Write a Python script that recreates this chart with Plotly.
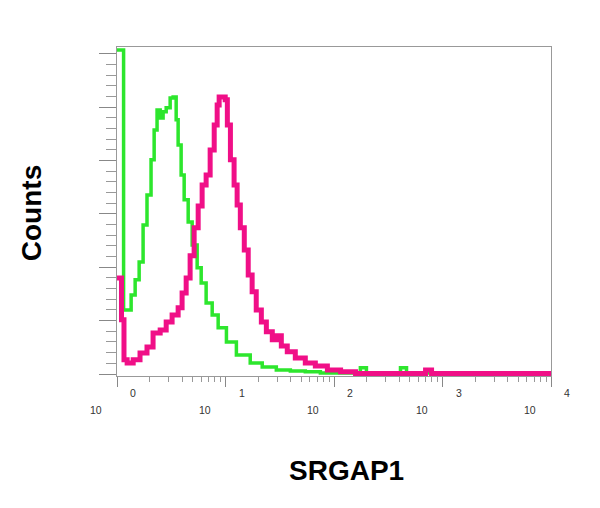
import plotly.graph_objects as go

# Fluorescence intensity (bin start) and counts for each histogram
iso_x = [1.00, 1.15, 1.35, 1.47, 1.60, 1.74, 1.89, 2.06, 2.20, 2.34, 2.50, 2.66, 2.84,
         3.09, 3.29, 3.51, 3.66, 3.90, 4.16, 4.53, 4.93, 5.48, 5.97, 6.63, 7.54, 8.56,
         10.2, 12.6, 16.9, 21.8, 29.4, 39.6, 54.4, 74.9, 175, 199, 410, 466, 10000]
iso_y = [121.5, 24.0, 29.6, 35.3, 42.0, 55.9, 67.1, 80.3, 91.5, 99.0, 96.0, 98.3, 99.8,
         103.5, 103.9, 95.3, 85.9, 74.6, 65.3, 57.0, 48.4, 39.8, 34.1, 26.6, 22.1, 17.3,
         12.0, 7.1, 4.1, 2.6, 1.5, 1.1, 0.8, 0.4, 2.3, 0.4, 2.3, 0.4, 0.4]

srgap_x = [1.00, 1.10, 1.16, 1.24, 1.41, 1.63, 1.89, 2.15, 2.50, 2.84, 3.22, 3.66, 3.98,
           4.34, 4.72, 5.14, 5.60, 6.09, 6.63, 7.22, 7.87, 8.38, 8.74, 9.94, 10.4, 11.1,
           12.0, 12.8, 13.7, 14.9, 16.2, 17.6, 19.2, 21.4, 23.8, 27.0, 30.0, 32.7, 37.1,
           44.0, 54.4, 67.3, 86.9, 115, 158, 698, 793, 10000]
srgap_y = [36.0, 20.3, 5.3, 4.1, 5.3, 7.9, 10.1, 15.4, 16.5, 19.5, 22.1, 24.8, 30.4,
           36.0, 44.3, 54.8, 63.0, 70.9, 74.6, 84.0, 93.4, 100.9, 103.9, 102.8, 93.4, 80.3,
           70.9, 63.4, 54.8, 46.5, 37.1, 30.8, 24.0, 19.5, 15.8, 12.8, 14.3, 10.5, 8.3,
           6.0, 4.1, 3.0, 1.5, 0.8, 0.2, 1.5, 0.2, 0.2]

decades = [0, 1, 2, 3, 4]
x_title = "SRGAP1"
y_title = "Counts"

fig = go.Figure()
fig.add_trace(go.Scatter(x=iso_x, y=iso_y, mode="lines", line_shape="hv",
                         line=dict(color="#2de62d", width=3.5), showlegend=False))
fig.add_trace(go.Scatter(x=srgap_x, y=srgap_y, mode="lines", line_shape="hv",
                         line=dict(color="#f00f87", width=5), showlegend=False))

minor_vals = [m * 10 ** d for d in decades[:-1] for m in range(2, 10)]

fig.update_xaxes(type="log", range=[0, 4], showgrid=False, zeroline=False,
                 tickmode="array", tickvals=[10 ** d for d in decades],
                 ticks="outside", ticklen=10, tickcolor="#888", tickwidth=1,
                 showticklabels=False,
                 minor=dict(tickmode="array", tickvals=minor_vals, ticks="outside",
                            ticklen=5, tickcolor="#999", tickwidth=1, showgrid=False),
                 showline=True, linecolor="#999", linewidth=1, mirror=True)
fig.update_yaxes(range=[-0.75, 122.6], showgrid=False, zeroline=False,
                 tickmode="linear", tick0=0, dtick=20, ticks="outside", ticklen=17,
                 tickcolor="#888", tickwidth=1, showticklabels=False,
                 minor=dict(dtick=4, tick0=0, ticks="outside", ticklen=10,
                            tickcolor="#999", tickwidth=1, showgrid=False),
                 showline=True, linecolor="#999", linewidth=1, mirror=True)

annos = []
for d in decades:
    annos.append(dict(x=d, xref="x", y=-0.103, yref="paper", text="10", showarrow=False,
                      xshift=-21, xanchor="center", yanchor="middle",
                      font=dict(family="Liberation Sans, Arial", size=10.5, color="#333")))
    annos.append(dict(x=d, xref="x", y=-0.052, yref="paper", text=str(d), showarrow=False,
                      xshift=16, xanchor="center", yanchor="middle",
                      font=dict(family="Liberation Sans, Arial", size=10.5, color="#333")))
annos.append(dict(x=-0.198, xref="paper", y=0.495, yref="paper", text="<b>%s</b>" % y_title,
                  textangle=-90, showarrow=False, xanchor="center", yanchor="middle",
                  font=dict(family="Liberation Sans, Arial", size=28, color="#000")))
annos.append(dict(x=0.528, xref="paper", y=-0.286, yref="paper", text="<b>%s</b>" % x_title,
                  showarrow=False, xanchor="center", yanchor="middle",
                  font=dict(family="Liberation Sans, Arial", size=28, color="#000")))

fig.update_layout(width=592, height=500, plot_bgcolor="white", paper_bgcolor="white",
                  margin=dict(l=109, r=49, t=39, b=132), annotations=annos)

fig.write_html("out.html")
